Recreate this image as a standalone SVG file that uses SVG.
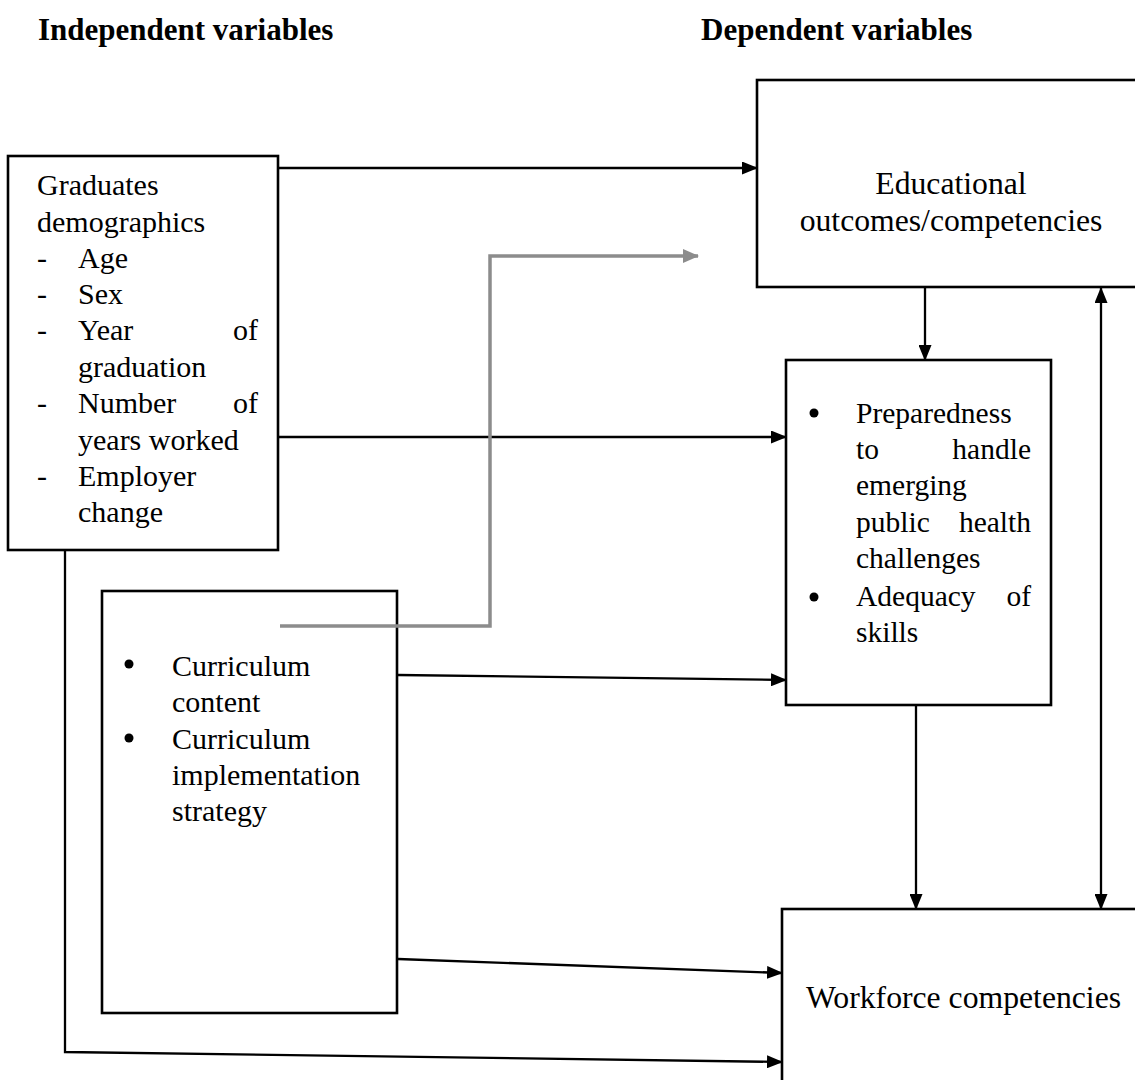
<svg xmlns="http://www.w3.org/2000/svg" width="1135" height="1080" viewBox="0 0 1135 1080">
<style>
text{font-family:"Liberation Serif","Times New Roman",serif;font-size:30px;fill:#000}
.t{font-weight:bold;font-size:31px}
.big{font-size:31.7px}
.p{font-size:29.5px}
.box{fill:#fff;stroke:#000;stroke-width:2.6}
.c{fill:none;stroke:#000;stroke-width:2.3}
.g{fill:none;stroke:#8c8c8c;stroke-width:3.5}
</style>
<defs>
<marker id="a" markerUnits="userSpaceOnUse" markerWidth="16" markerHeight="13" refX="15" refY="6.5" orient="auto"><path d="M0,0L16,6.5L0,13z" fill="#000"/></marker>
<marker id="as" markerUnits="userSpaceOnUse" markerWidth="16" markerHeight="13" refX="1" refY="6.5" orient="auto"><path d="M16,0L0,6.5L16,13z" fill="#000"/></marker>
<marker id="ag" markerUnits="userSpaceOnUse" markerWidth="16" markerHeight="14" refX="15" refY="7" orient="auto"><path d="M0,0L16,7L0,14z" fill="#8c8c8c"/></marker>
</defs>
<rect width="1135" height="1080" fill="#fff"/>
<text class="t" x="38" y="40">Independent variables</text>
<text class="t" x="701" y="40">Dependent variables</text>

<g id="connectors">
<line class="c" x1="279" y1="168" x2="757" y2="168" marker-end="url(#a)"/>
<line class="c" x1="279" y1="437" x2="786" y2="437" marker-end="url(#a)"/>
<line class="c" x1="398" y1="675" x2="786" y2="680" marker-end="url(#a)"/>
<line class="c" x1="398" y1="959" x2="782" y2="973" marker-end="url(#a)"/>
<polyline class="c" points="65,551 65,1052 782,1062" marker-end="url(#a)"/>
<line class="c" x1="925" y1="288" x2="925" y2="360" marker-end="url(#a)"/>
<line class="c" x1="916" y1="706" x2="916" y2="909" marker-end="url(#a)"/>
<line class="c" x1="1101" y1="288" x2="1101" y2="909" marker-start="url(#as)" marker-end="url(#a)"/>
</g>

<g id="graduates">
<rect class="box" x="8" y="156" width="270" height="394"/>
<text x="37" y="195">Graduates</text>
<text x="37" y="232">demographics</text>
<text x="37" y="268">-</text><text x="78" y="268">Age</text>
<text x="37" y="304">-</text><text x="78" y="304">Sex</text>
<text x="37" y="340">-</text><text x="78" y="340">Year</text><text x="258" y="340" text-anchor="end">of</text>
<text x="78" y="377">graduation</text>
<text x="37" y="413">-</text><text x="78" y="413">Number</text><text x="258" y="413" text-anchor="end">of</text>
<text x="78" y="450">years worked</text>
<text x="37" y="486">-</text><text x="78" y="486">Employer</text>
<text x="78" y="522">change</text>
</g>

<g id="curriculum">
<rect class="box" x="102" y="591" width="295" height="422"/>
<circle cx="129" cy="664" r="4.5"/>
<text x="172" y="676">Curriculum</text>
<text x="172" y="712">content</text>
<circle cx="129" cy="738" r="4.5"/>
<text x="172" y="749">Curriculum</text>
<text x="172" y="785">implementation</text>
<text x="172" y="821">strategy</text>
</g>

<g id="gray-connector">
<polyline class="g" points="280,626 490,626 490,256 698,256" marker-end="url(#ag)"/>
</g>

<g id="educational">
<rect class="box" x="757" y="80" width="390" height="207"/>
<text class="big" x="951" y="194" text-anchor="middle">Educational</text>
<text class="big" x="951" y="231" text-anchor="middle">outcomes/competencies</text>
</g>

<g id="preparedness">
<rect class="box" x="786" y="360" width="265" height="345"/>
<circle cx="814" cy="413" r="4.5"/>
<text class="p" x="856" y="423">Preparedness</text>
<text class="p" x="856" y="459">to</text><text class="p" x="1031" y="459" text-anchor="end">handle</text>
<text class="p" x="856" y="495">emerging</text>
<text class="p" x="856" y="532">public</text><text class="p" x="1031" y="532" text-anchor="end">health</text>
<text class="p" x="856" y="568">challenges</text>
<circle cx="814" cy="597" r="4.5"/>
<text class="p" x="856" y="606">Adequacy</text><text class="p" x="1031" y="606" text-anchor="end">of</text>
<text class="p" x="856" y="642">skills</text>
</g>

<g id="workforce">
<rect class="box" x="782" y="909" width="365" height="190"/>
<text class="big" x="806" y="1008">Workforce competencies</text>
</g>
</svg>
